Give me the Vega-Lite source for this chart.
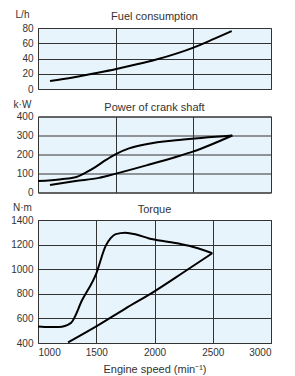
{
  "$schema": "https://vega.github.io/schema/vega-lite/v6.json",
  "background": "white",
  "padding": {"left": 10, "top": 8, "right": 5, "bottom": 0},
  "bounds": "flush",
  "spacing": 27.5,
  "config": {
    "font": "Liberation Sans",
    "view": {"fill": "#e8f4fc", "stroke": "#333333", "strokeWidth": 1},
    "axis": {
      "labelFont": "Liberation Sans",
      "titleFont": "Liberation Sans",
      "labelFontSize": 10,
      "labelColor": "#333333",
      "titleColor": "#333333",
      "titleFontWeight": "normal",
      "titleFontSize": 10,
      "gridColor": "#333333",
      "gridOpacity": 1,
      "gridWidth": 1,
      "ticks": false,
      "domain": false,
      "labelPadding": 5,
      "format": "d"
    },
    "title": {"font": "Liberation Sans", "fontSize": 11, "fontWeight": "normal", "color": "#333333", "offset": -13}
  },
  "datasets": {
    "fuel": [
      {"series": "fuel", "rpm": 1103, "value": 10.5},
      {"series": "fuel", "rpm": 1300, "value": 15},
      {"series": "fuel", "rpm": 1466, "value": 20},
      {"series": "fuel", "rpm": 1663, "value": 26},
      {"series": "fuel", "rpm": 1867, "value": 33},
      {"series": "fuel", "rpm": 2000, "value": 38},
      {"series": "fuel", "rpm": 2200, "value": 47},
      {"series": "fuel", "rpm": 2328, "value": 54},
      {"series": "fuel", "rpm": 2500, "value": 65},
      {"series": "fuel", "rpm": 2663, "value": 76}
    ],
    "power": [
      {"series": "lower", "rpm": 1103, "value": 39},
      {"series": "lower", "rpm": 1323, "value": 60},
      {"series": "lower", "rpm": 1524, "value": 77},
      {"series": "lower", "rpm": 1661, "value": 98},
      {"series": "lower", "rpm": 1938, "value": 144},
      {"series": "lower", "rpm": 2210, "value": 192},
      {"series": "lower", "rpm": 2329, "value": 215},
      {"series": "lower", "rpm": 2668, "value": 300},
      {"series": "upper", "rpm": 1000, "value": 60},
      {"series": "upper", "rpm": 1200, "value": 70},
      {"series": "upper", "rpm": 1329, "value": 82},
      {"series": "upper", "rpm": 1420, "value": 108},
      {"series": "upper", "rpm": 1495, "value": 135},
      {"series": "upper", "rpm": 1580, "value": 170},
      {"series": "upper", "rpm": 1664, "value": 201},
      {"series": "upper", "rpm": 1781, "value": 232},
      {"series": "upper", "rpm": 1938, "value": 255},
      {"series": "upper", "rpm": 2210, "value": 276},
      {"series": "upper", "rpm": 2668, "value": 300}
    ],
    "torque": [
      {"series": "upper", "rpm": 1000, "value": 535},
      {"series": "upper", "rpm": 1100, "value": 530},
      {"series": "upper", "rpm": 1180, "value": 530},
      {"series": "upper", "rpm": 1281, "value": 562},
      {"series": "upper", "rpm": 1380, "value": 751},
      {"series": "upper", "rpm": 1500, "value": 965},
      {"series": "upper", "rpm": 1581, "value": 1190},
      {"series": "upper", "rpm": 1624, "value": 1252},
      {"series": "upper", "rpm": 1667, "value": 1285},
      {"series": "upper", "rpm": 1750, "value": 1297},
      {"series": "upper", "rpm": 1850, "value": 1280},
      {"series": "upper", "rpm": 1953, "value": 1250},
      {"series": "upper", "rpm": 2124, "value": 1222},
      {"series": "upper", "rpm": 2296, "value": 1190},
      {"series": "upper", "rpm": 2496, "value": 1130},
      {"series": "lower", "rpm": 1258, "value": 405},
      {"series": "lower", "rpm": 1500, "value": 535},
      {"series": "lower", "rpm": 1750, "value": 680},
      {"series": "lower", "rpm": 2000, "value": 820},
      {"series": "lower", "rpm": 2250, "value": 975},
      {"series": "lower", "rpm": 2496, "value": 1130}
    ]
  },
  "vconcat": [
    {
      "width": 233,
      "height": 61,
      "title": "Fuel consumption",
      "data": {"name": "fuel"},
      "mark": {"type": "line", "color": "black", "strokeWidth": 2, "interpolate": "monotone"},
      "encoding": {
        "x": {"field": "rpm", "type": "quantitative", "scale": {"domain": [1000, 3000], "nice": false},
              "axis": {"values": [1666.667, 2333.333], "labels": false, "title": null}},
        "y": {"field": "value", "type": "quantitative", "scale": {"domain": [0, 80], "nice": false},
              "axis": {"values": [0, 20, 40, 60, 80], "title": "L/h", "titleAngle": 0, "titleAlign": "center", "titleBaseline": "middle", "titleX": -16, "titleY": -14}}
      }
    },
    {
      "width": 233,
      "height": 76,
      "title": "Power of crank shaft",
      "data": {"name": "power"},
      "mark": {"type": "line", "color": "black", "strokeWidth": 2, "interpolate": "monotone"},
      "encoding": {
        "x": {"field": "rpm", "type": "quantitative", "scale": {"domain": [1000, 3000], "nice": false},
              "axis": {"values": [1666.667, 2333.333], "labels": false, "title": null}},
        "y": {"field": "value", "type": "quantitative", "scale": {"domain": [0, 400], "nice": false},
              "axis": {"values": [0, 100, 200, 300, 400], "title": "k·W", "titleAngle": 0, "titleAlign": "center", "titleBaseline": "middle", "titleX": -16, "titleY": -12}},
        "detail": {"field": "series"}
      }
    },
    {
      "width": 233,
      "height": 123,
      "title": "Torque",
      "data": {"name": "torque"},
      "mark": {"type": "line", "color": "black", "strokeWidth": 2, "interpolate": "monotone"},
      "encoding": {
        "x": {"field": "rpm", "type": "quantitative", "scale": {"domain": [1000, 3000], "nice": false},
              "axis": {"values": [1000, 1500, 2000, 2500, 3000], "title": "Engine speed (min⁻¹)", "titleFontSize": 11, "labelPadding": 4, "titlePadding": 6}},
        "y": {"field": "value", "type": "quantitative", "scale": {"domain": [400, 1400], "nice": false},
              "axis": {"values": [400, 600, 800, 1000, 1200, 1400], "title": "N·m", "titleAngle": 0, "titleAlign": "center", "titleBaseline": "middle", "titleX": -16, "titleY": -13}},
        "detail": {"field": "series"}
      }
    }
  ]
}
